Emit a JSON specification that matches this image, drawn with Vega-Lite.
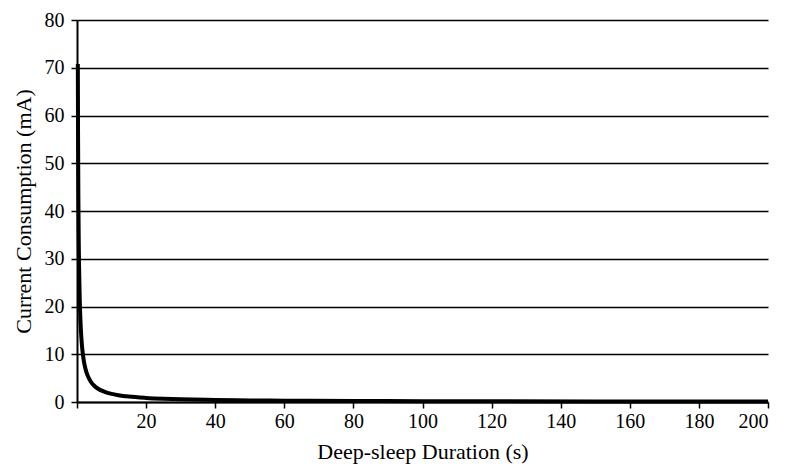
{
  "$schema": "https://vega.github.io/schema/vega-lite/v6.json",
  "width": 691,
  "height": 382,
  "autosize": {"type": "none"},
  "padding": {"left": 77, "top": 20, "right": 23, "bottom": 65},
  "background": "white",
  "config": {
    "view": {"stroke": null},
    "font": "Liberation Serif",
    "axis": {"labelFont": "Liberation Serif", "titleFont": "Liberation Serif", "labelColor": "black", "titleColor": "black", "titleFontWeight": "normal", "domainColor": "black", "tickColor": "black"}
  },
  "data": {"values": [
    {"t": 0.24, "mA": 70.8}, {"t": 0.3, "mA": 56.7}, {"t": 0.4, "mA": 42.5}, {"t": 0.5, "mA": 34.0},
    {"t": 0.6, "mA": 28.3}, {"t": 0.8, "mA": 21.3}, {"t": 1.0, "mA": 17.0}, {"t": 1.25, "mA": 13.6},
    {"t": 1.5, "mA": 11.3}, {"t": 2.0, "mA": 8.5}, {"t": 2.5, "mA": 6.8}, {"t": 3.0, "mA": 5.67},
    {"t": 4.0, "mA": 4.25}, {"t": 5.0, "mA": 3.4}, {"t": 6.0, "mA": 2.83}, {"t": 8.0, "mA": 2.13},
    {"t": 10.0, "mA": 1.7}, {"t": 12.0, "mA": 1.42}, {"t": 15.0, "mA": 1.13}, {"t": 20.0, "mA": 0.85},
    {"t": 25.0, "mA": 0.68}, {"t": 30.0, "mA": 0.57}, {"t": 40.0, "mA": 0.43}, {"t": 50.0, "mA": 0.34},
    {"t": 60.0, "mA": 0.28}, {"t": 80.0, "mA": 0.21}, {"t": 100.0, "mA": 0.17}, {"t": 120.0, "mA": 0.14},
    {"t": 150.0, "mA": 0.11}, {"t": 180.0, "mA": 0.09}, {"t": 200.0, "mA": 0.085}
  ]},
  "mark": {"type": "line", "color": "black", "strokeWidth": 4, "interpolate": "monotone"},
  "encoding": {
    "x": {
      "field": "t", "type": "quantitative",
      "scale": {"domain": [0, 200], "nice": false},
      "axis": {
        "title": "Deep-sleep Duration (s)", "titleFontSize": 22, "titlePadding": 10,
        "values": [0, 20, 40, 60, 80, 100, 120, 140, 160, 180, 200],
        "labelExpr": "datum.value == 0 ? '' : datum.label",
        "labelFontSize": 20, "labelPadding": 3, "tickSize": 6, "tickWidth": 1.5, "domainWidth": 2,
        "grid": false
      }
    },
    "y": {
      "field": "mA", "type": "quantitative",
      "scale": {"domain": [0, 80], "nice": false},
      "axis": {
        "title": "Current Consumption (mA)", "titleFontSize": 22, "titlePadding": 9,
        "values": [0, 10, 20, 30, 40, 50, 60, 70, 80],
        "labelFontSize": 20, "labelPadding": 7, "tickSize": 6, "tickWidth": 1.5, "domainWidth": 2,
        "grid": true, "gridColor": "black", "gridWidth": 1.5, "gridOpacity": 1
      }
    }
  }
}
